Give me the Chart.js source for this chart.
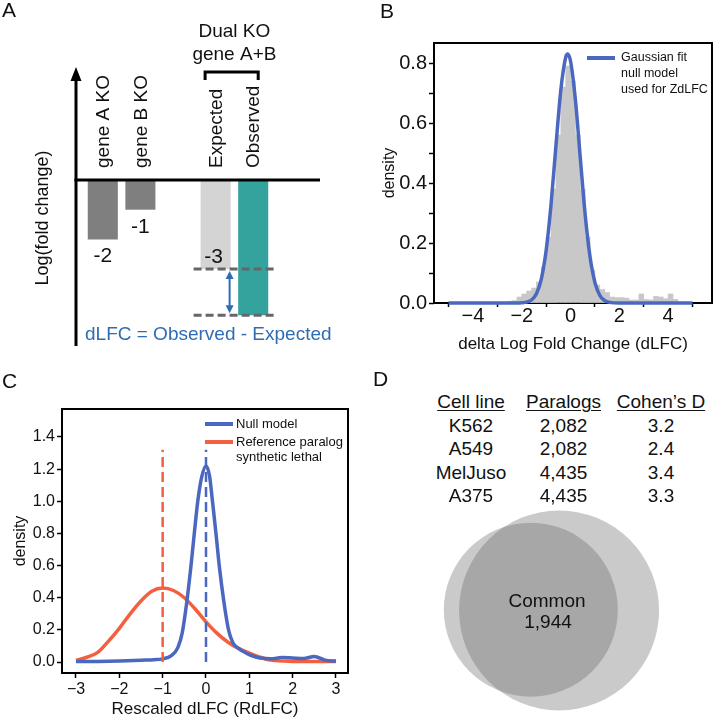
<!DOCTYPE html>
<html><head><meta charset="utf-8">
<script src="https://cdn.jsdelivr.net/npm/chart.js@4.4.1/dist/chart.umd.min.js"></script>
<style>
html,body{margin:0;padding:0;background:#fff;}
#root{position:relative;width:716px;height:720px;overflow:hidden;font-family:"Liberation Sans",Arial,sans-serif;color:#111;}
canvas{position:absolute;}
.t{position:absolute;white-space:nowrap;line-height:1;}
</style></head><body><div id="root">
<canvas id="cA" width="358" height="360" style="left:0;top:0"></canvas>
<canvas id="cB" width="358" height="360" style="left:358px;top:0"></canvas>
<canvas id="cC" width="358" height="360" style="left:0;top:360px"></canvas>
<canvas id="cD" width="358" height="220" style="left:358px;top:500px"></canvas>
</div>
<script>
// ---------- DATA ----------
// Panel A (schematic log fold changes)
const koLabels = ['gene A KO', 'gene B KO', '', 'Expected', 'Observed'];
const koValues = [-2, -1, null, -3, -4.55];
const koValueLabels = ['-2', '-1', '', '-3', ''];

// Panel B (histogram of dLFC + gaussian fit)
const histBinCenters = [-2.5,-2.3,-2.1,-1.9,-1.7,-1.5,-1.3,-1.1,-0.9,-0.7,-0.5,-0.3,-0.1,0.1,0.3,0.5,0.7,0.9,1.1,1.3,1.5,1.7,1.9,2.1,2.3,2.5,2.7,2.9,3.1,3.3,3.5,3.7,3.9,4.1,4.3];
const histDensity    = [0.006,0.008,0.02,0.03,0.04,0.05,0.07,0.12,0.22,0.38,0.56,0.72,0.79,0.74,0.56,0.38,0.22,0.11,0.06,0.045,0.035,0.02,0.018,0.018,0.016,0.01,0.01,0.03,0.012,0.01,0.022,0.02,0.014,0.03,0.012];
const gaussX = [-5,-2.5,-2.0,-1.8,-1.6,-1.4,-1.2,-1.0,-0.8,-0.6,-0.4,-0.2,-0.12,0,0.2,0.4,0.6,0.8,1.0,1.2,1.4,1.6,2.0,2.5,5];
const gaussY = [0,0,0.001,0.003,0.010,0.031,0.080,0.176,0.329,0.524,0.710,0.819,0.83,0.806,0.676,0.483,0.294,0.153,0.068,0.025,0.008,0.002,0,0,0];
const bXTicks = [-4,-2,0,2,4];
const bYTicks = [0,0.1,0.2,0.3,0.4,0.5,0.6,0.7,0.8];

// Panel C (rescaled dLFC densities)
const nullModelX = [-3,-2.5,-2,-1.5,-1.2,-1,-0.8,-0.65,-0.55,-0.45,-0.35,-0.27,-0.19,-0.1,0,0.08,0.15,0.23,0.31,0.41,0.52,0.62,0.75,0.9,1.05,1.25,1.5,1.75,2.0,2.25,2.5,2.75,3];
const nullModelY = [0.003,0.004,0.007,0.012,0.015,0.02,0.04,0.09,0.18,0.36,0.59,0.80,1.0,1.15,1.22,1.16,1.0,0.80,0.59,0.38,0.20,0.12,0.085,0.06,0.04,0.025,0.02,0.028,0.025,0.022,0.035,0.012,0.006];
const paralogSLX = [-3,-2.75,-2.5,-2.25,-2,-1.75,-1.5,-1.25,-1.0,-0.75,-0.5,-0.25,0,0.25,0.5,0.75,1.0,1.25,1.5,2.0,2.5,3];
const paralogSLY = [0.01,0.03,0.06,0.13,0.21,0.30,0.38,0.44,0.46,0.445,0.40,0.33,0.25,0.18,0.125,0.085,0.056,0.03,0.012,0.004,0.003,0.003];
const nullMean = 0;
const paralogSLMean = -1;
const meanLineTop = 1.32;
const cXTicks = [-3,-2,-1,0,1,2,3];
const cYTicks = [0,0.2,0.4,0.6,0.8,1.0,1.2,1.4];

// Panel D (table + venn)
const tableHeaders = ['Cell line', 'Paralogs', 'Cohen\u2019s D'];
const cellLines = ['K562', 'A549', 'MelJuso', 'A375'];
const paralogCounts = ['2,082', '2,082', '4,435', '4,435'];
const cohensD = ['3.2', '2.4', '3.4', '3.3'];
const vennCommonLabel = ['Common', '1,944'];

// ---------- HELPERS ----------
const FAMILY = '"Liberation Sans", Arial, sans-serif';
Chart.defaults.font.family = FAMILY;
Chart.defaults.color = '#111';
const root = document.getElementById('root');
function addText(txt, x, baseline, size, align, extra) {
  const d = document.createElement('div');
  d.className = 't';
  d.textContent = txt;
  d.style.fontSize = size + 'px';
  d.style.top = (baseline - 0.8465 * size) + 'px';
  d.style.left = x + 'px';
  if (align === 'center') d.style.transform = 'translateX(-50%)';
  if (extra) Object.assign(d.style, extra);
  root.appendChild(d);
  return d;
}
const fmtMinus = v => (v < 0 ? '\u2212' + Math.abs(v) : String(v));
const baseOpts = {responsive:false, animation:false, devicePixelRatio:1, events:[]};

const framePlugin = {
  id: 'frame',
  beforeDatasetsDraw(chart) {
    const {ctx, chartArea: a} = chart;
    ctx.save();
    ctx.strokeStyle = '#000'; ctx.lineWidth = 2;
    ctx.strokeRect(a.left, a.top, a.right - a.left, a.bottom - a.top);
    ctx.restore();
  }
};
function legendPlugin(cfg) {
  return {
    id: 'legendLines',
    afterDatasetsDraw(chart) {
      const ctx = chart.ctx;
      ctx.save();
      ctx.font = cfg.size + 'px ' + FAMILY;
      ctx.textBaseline = 'middle'; ctx.textAlign = 'left'; ctx.fillStyle = '#111';
      cfg.items.forEach(it => {
        ctx.strokeStyle = it.color; ctx.lineWidth = 4; ctx.lineCap = 'butt';
        ctx.beginPath(); ctx.moveTo(cfg.x0, it.y); ctx.lineTo(cfg.x1, it.y); ctx.stroke();
        it.lines.forEach((ln, k) => ctx.fillText(ln, cfg.tx, it.y + k * cfg.lh));
      });
      ctx.restore();
    }
  };
}

// ---------- PANEL A ----------
const annotA = {
  id: 'annotA',
  afterDatasetsDraw(chart) {
    const {ctx, scales: {x, y}} = chart;
    const y0 = y.getPixelForValue(0);
    const axX = x.left - 8;
    ctx.save();
    ctx.strokeStyle = '#000'; ctx.fillStyle = '#000'; ctx.lineWidth = 3;
    ctx.beginPath(); ctx.moveTo(axX, 346); ctx.lineTo(axX, 78); ctx.stroke();
    ctx.beginPath(); ctx.moveTo(axX, 67); ctx.lineTo(axX - 5.5, 81); ctx.lineTo(axX + 5.5, 81); ctx.closePath(); ctx.fill();
    ctx.beginPath(); ctx.moveTo(axX - 1.5, y0); ctx.lineTo(x.right + 48, y0); ctx.stroke();

    // category labels (rotated)
    ctx.fillStyle = '#111';
    ctx.font = '19px ' + FAMILY;
    koLabels.forEach((lab, i) => {
      if (!lab) return;
      const px = x.getPixelForValue(i);
      ctx.save(); ctx.translate(px + 1, y0 - 12); ctx.rotate(-Math.PI / 2);
      ctx.textAlign = 'left'; ctx.textBaseline = 'middle'; ctx.fillText(lab, 0, 0);
      ctx.restore();
    });
    // value labels
    ctx.font = '21px ' + FAMILY; ctx.textAlign = 'center'; ctx.textBaseline = 'alphabetic';
    koValueLabels.forEach((lab, i) => {
      if (!lab) return;
      const px = x.getPixelForValue(i);
      const pb = y.getPixelForValue(koValues[i]);
      const inside = i === 3;
      ctx.fillText(lab, px - (inside ? 2 : 0), inside ? pb - 6 : pb + 23);
    });
    // dashed reference lines at Expected / Observed
    const xE = x.getPixelForValue(3), xO = x.getPixelForValue(4);
    const yE = y.getPixelForValue(koValues[3]), yO = y.getPixelForValue(koValues[4]);
    ctx.strokeStyle = '#666'; ctx.lineWidth = 3; ctx.setLineDash([8, 4]);
    [yE, yO].forEach(yy => { ctx.beginPath(); ctx.moveTo(xE - 22, yy); ctx.lineTo(xO + 21, yy); ctx.stroke(); });
    ctx.setLineDash([]);
    // double arrow
    const ax = xE + 14;
    ctx.strokeStyle = '#2e6db4'; ctx.fillStyle = '#2e6db4'; ctx.lineWidth = 2;
    ctx.beginPath(); ctx.moveTo(ax, yE + 8); ctx.lineTo(ax, yO - 8); ctx.stroke();
    ctx.beginPath(); ctx.moveTo(ax, yE + 2); ctx.lineTo(ax - 4, yE + 10); ctx.lineTo(ax + 4, yE + 10); ctx.closePath(); ctx.fill();
    ctx.beginPath(); ctx.moveTo(ax, yO - 2); ctx.lineTo(ax - 4, yO - 10); ctx.lineTo(ax + 4, yO - 10); ctx.closePath(); ctx.fill();
    // bracket
    ctx.strokeStyle = '#000'; ctx.lineWidth = 3;
    ctx.beginPath(); ctx.moveTo(xE - 10.5, 80); ctx.lineTo(xE - 10.5, 72); ctx.lineTo(xO + 5, 72); ctx.lineTo(xO + 5, 80); ctx.stroke();
    // titles
    ctx.fillStyle = '#111'; ctx.font = '19px ' + FAMILY; ctx.textAlign = 'center';
    const cx = (xE + xO) / 2;
    ctx.fillText('Dual KO', cx, 37);
    ctx.fillText('gene A+B', cx, 60);
    ctx.fillStyle = '#2e6db4'; ctx.textAlign = 'left';
    ctx.fillText('dLFC = Observed - Expected', x.left + 1, 340);
    // y axis title
    ctx.fillStyle = '#111'; ctx.font = '18px ' + FAMILY;
    ctx.save(); ctx.translate(43, 218); ctx.rotate(-Math.PI / 2);
    ctx.textAlign = 'center'; ctx.textBaseline = 'middle'; ctx.fillText('Log(fold change)', 0, 0);
    ctx.restore();
    ctx.restore();
  }
};
new Chart(document.getElementById('cA'), {
  type: 'bar',
  data: {labels: koLabels, datasets: [{data: koValues,
    backgroundColor: ['#7f7f7f', '#7f7f7f', 'rgba(0,0,0,0)', '#d4d4d4', '#35a39d'],
    borderWidth: 0, barPercentage: 0.8, categoryPercentage: 1.0}]},
  options: Object.assign({}, baseOpts, {
    layout: {padding: {left: 84, right: 86, top: 0, bottom: 0}},
    scales: {x: {display: false, offset: true}, y: {display: false, min: -6.06, max: 6.06}},
    plugins: {legend: {display: false}, tooltip: {enabled: false}}
  }),
  plugins: [annotA]
});

// ---------- PANEL B ----------
const tickGrid = {display: true, drawOnChartArea: false, drawTicks: true, color: '#000', tickColor: '#000', tickWidth: 1.5};
new Chart(document.getElementById('cB'), {
  type: 'bar',
  data: {datasets: [
    {type: 'line', order: 0, data: gaussX.map((v, i) => ({x: v, y: gaussY[i]})),
     borderColor: '#4a68bf', borderWidth: 3.5, pointRadius: 0, tension: 0.4, cubicInterpolationMode: 'monotone', clip: false},
    {type: 'bar', order: 1, data: histBinCenters.map((v, i) => ({x: v, y: histDensity[i]})),
     backgroundColor: '#c8c8c8', borderWidth: 0, barPercentage: 1.0, categoryPercentage: 1.0}
  ]},
  options: Object.assign({}, baseOpts, {
    layout: {padding: {left: 18, right: 4, top: 43, bottom: 0}},
    scales: {
      x: {type: 'linear', min: -5.6, max: 5.8, offset: false,
        afterBuildTicks: s => { s.ticks = bXTicks.map(v => ({value: v})); },
        afterFit: s => { s.height = 57; },
        ticks: {font: {size: 20}, color: '#111', padding: -3, maxRotation: 0, autoSkip: false, callback: v => fmtMinus(v)},
        grid: Object.assign({}, tickGrid, {tickLength: 4}), border: {display: false},
        title: {display: true, text: 'delta Log Fold Change (dLFC)', font: {size: 17}, color: '#111', padding: {top: 0, bottom: 5.8}}},
      y: {min: 0, max: 0.867,
        afterBuildTicks: s => { s.ticks = bYTicks.map(v => ({value: v})); },
        afterFit: s => { s.width = 58; },
        ticks: {font: {size: 20}, color: '#111', padding: 2, autoSkip: false,
          callback: v => (Math.round(v * 10) % 2 === 0 ? v.toFixed(1) : '')},
        grid: Object.assign({}, tickGrid, {tickLength: 5}), border: {display: false},
        title: {display: true, text: 'density', font: {size: 16}, color: '#111', padding: {top: 4, bottom: 0}}}
    },
    plugins: {legend: {display: false}, tooltip: {enabled: false}}
  }),
  plugins: [framePlugin, legendPlugin({size: 12.5, x0: 229, x1: 257, tx: 263, lh: 16,
    items: [{color: '#4a68bf', y: 58, lines: ['Gaussian fit', 'null model', 'used for ZdLFC']}]})]
});

// ---------- PANEL C ----------
new Chart(document.getElementById('cC'), {
  type: 'line',
  data: {datasets: [
    {order: 0, data: [{x: paralogSLMean, y: 0}, {x: paralogSLMean, y: meanLineTop}], borderColor: '#f4603f', borderWidth: 2.5, borderDash: [10, 5], pointRadius: 0},
    {order: 0, data: [{x: nullMean, y: 0}, {x: nullMean, y: meanLineTop}], borderColor: '#4a68bf', borderWidth: 2.5, borderDash: [10, 5], pointRadius: 0},
    {order: 1, data: nullModelX.map((v, i) => ({x: v, y: nullModelY[i]})), borderColor: '#4a68bf', borderWidth: 3.5, pointRadius: 0, tension: 0.4, cubicInterpolationMode: 'monotone'},
    {order: 2, data: paralogSLX.map((v, i) => ({x: v, y: paralogSLY[i]})), borderColor: '#f4603f', borderWidth: 3.5, pointRadius: 0, tension: 0.4, cubicInterpolationMode: 'monotone'}
  ]},
  options: Object.assign({}, baseOpts, {
    layout: {padding: {left: 8, right: 10, top: 49, bottom: 0}},
    scales: {
      x: {type: 'linear', min: -3.323, max: 3.277,
        afterBuildTicks: s => { s.ticks = cXTicks.map(v => ({value: v})); },
        afterFit: s => { s.height = 47; },
        ticks: {font: {size: 16}, color: '#111', padding: 2, maxRotation: 0, autoSkip: false, callback: v => fmtMinus(v)},
        grid: Object.assign({}, tickGrid, {tickLength: 5}), border: {display: false},
        title: {display: true, text: 'Rescaled dLFC (RdLFC)', font: {size: 17}, color: '#111', padding: {top: 0, bottom: 0}}},
      y: {type: 'linear', min: -0.068, max: 1.574,
        afterBuildTicks: s => { s.ticks = cYTicks.map(v => ({value: v})); },
        afterFit: s => { s.width = 54; },
        ticks: {font: {size: 16}, color: '#111', padding: 2, autoSkip: false, callback: v => v.toFixed(1)},
        grid: Object.assign({}, tickGrid, {tickLength: 5}), border: {display: false},
        title: {display: true, text: 'density', font: {size: 16}, color: '#111', padding: {top: 3.4, bottom: 0}}}
    },
    plugins: {legend: {display: false}, tooltip: {enabled: false}}
  }),
  plugins: [framePlugin, legendPlugin({size: 13, x0: 205, x1: 233, tx: 236, lh: 15,
    items: [{color: '#4a68bf', y: 64, lines: ['Null model']},
            {color: '#f4603f', y: 82, lines: ['Reference paralog', 'synthetic lethal']}]})]
});

// ---------- PANEL D ----------
const vennLayout = {centers: [{x: 165, y: 107}, {x: 229, y: 115}], radii: [87, 100]};
new Chart(document.getElementById('cD'), {
  type: 'scatter',
  data: {datasets: [{data: vennLayout.centers,
    pointRadius: c => vennLayout.radii[c.dataIndex],
    pointBackgroundColor: 'rgba(100,100,100,0.34)', backgroundColor: 'rgba(100,100,100,0.34)',
    pointBorderWidth: 0, borderWidth: 0, clip: false}]},
  options: Object.assign({}, baseOpts, {
    layout: {padding: 0},
    scales: {x: {display: false, min: 0, max: 358}, y: {display: false, min: 0, max: 220, reverse: true}},
    plugins: {legend: {display: false}, tooltip: {enabled: false}}
  })
});

// table (text)
const colCenters = [471, 563.5, 661];
tableHeaders.forEach((h, j) => addText(h, colCenters[j], 408, 19, 'center', {textDecoration: 'underline', textUnderlineOffset: '2px'}));
const rowBaselines = [432, 455.5, 479, 502.5];
cellLines.forEach((c, i) => {
  addText(c, colCenters[0], rowBaselines[i], 19, 'center');
  addText(paralogCounts[i], colCenters[1], rowBaselines[i], 19, 'center');
  addText(cohensD[i], colCenters[2], rowBaselines[i], 19, 'center');
});
addText(vennCommonLabel[0], 547, 607, 19, 'center');
addText(vennCommonLabel[1], 548, 628, 19, 'center');

// panel letters
addText('A', 2, 17, 21);
addText('B', 380, 18, 21);
addText('C', 2, 388, 21);
addText('D', 373, 386, 21);
</script></body></html>
